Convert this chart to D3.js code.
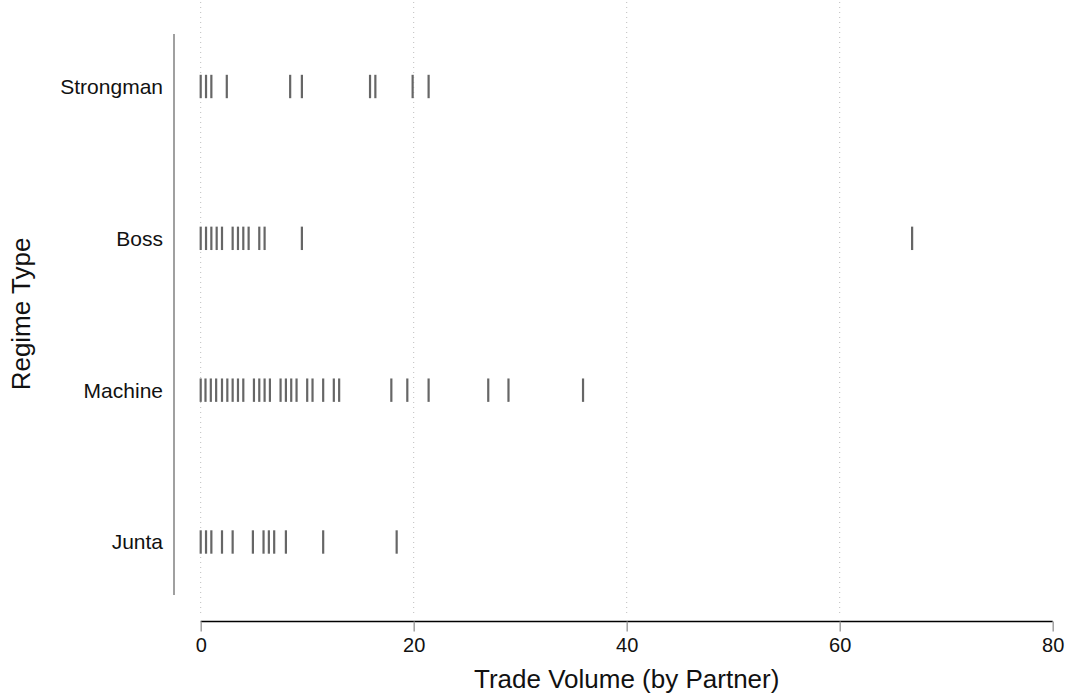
<!DOCTYPE html>
<html>
<head>
<meta charset="utf-8">
<script src="https://cdn.jsdelivr.net/npm/d3@7"></script>
<style>
    body { margin: 0; background: #fff; }
    svg { font-family: "Liberation Sans", Arial, sans-serif; }
</style>
</head>
<body>
<svg id="chart"></svg>
<script>
let width = 1071;
let height = 697;

// regime types, top to bottom
let regimes = ["Strongman", "Boss", "Machine", "Junta"];

// trade volume per partner, one rug per regime
let strongmanVals = [0, 0.5, 1, 2.45, 8.4, 9.5, 15.9, 16.4, 19.9, 21.4];
let bossVals = [0, 0.5, 1, 1.5, 2, 3, 3.5, 4, 4.5, 5.5, 6, 9.5, 66.8];
let machineVals = [0, 0.45, 0.95, 1.45, 2, 2.5, 3, 3.5, 4, 5, 5.5, 6, 6.5, 7.5, 8, 8.5, 9,
    10, 10.5, 11.5, 12.5, 13, 17.9, 19.4, 21.4, 27, 28.9, 35.9];
let juntaVals = [0, 0.5, 1, 2, 3, 4.9, 5.9, 6.4, 6.9, 8, 11.5, 18.4];

let xTicks = [0, 20, 40, 60, 80];
let gridTicks = [0, 20, 40, 60];

let rows = [
    { regime: "Strongman", vals: strongmanVals },
    { regime: "Boss", vals: bossVals },
    { regime: "Machine", vals: machineVals },
    { regime: "Junta", vals: juntaVals }
];

let svg = d3.select("#chart")
    .attr("width", width)
    .attr("height", height);

let x = d3.scaleLinear()
    .domain([0, 80])
    .range([200.7, 1052.7]);

let y = d3.scalePoint()
    .domain(regimes)
    .range([86.5, 542]);

// dotted gridlines
svg.selectAll(".grid")
    .data(gridTicks)
    .enter()
    .append("line")
        .attr("class", "grid")
        .attr("x1", d => x(d))
        .attr("x2", d => x(d))
        .attr("y1", 2)
        .attr("y2", 616)
        .attr("stroke", "#bdbdbd")
        .attr("stroke-width", 1)
        .attr("stroke-dasharray", "1,4");

// y axis (gray line, no ticks)
svg.append("line")
    .attr("x1", 174)
    .attr("x2", 174)
    .attr("y1", 34)
    .attr("y2", 595)
    .attr("stroke", "#a0a0a0")
    .attr("stroke-width", 2);

svg.selectAll(".cat")
    .data(regimes)
    .enter()
    .append("text")
        .attr("class", "cat")
        .attr("x", 163)
        .attr("y", d => y(d))
        .attr("dy", "0.35em")
        .attr("text-anchor", "end")
        .attr("font-size", 21)
        .attr("fill", "#111")
        .text(d => d);

// x axis
let xAxis = svg.append("g")
    .attr("transform", "translate(0,621.5)")
    .call(d3.axisBottom(x).tickValues(xTicks).tickSize(10).tickPadding(6).tickFormat(d3.format("d")));
xAxis.select(".domain")
    .attr("stroke", "#000")
    .attr("stroke-width", 1.5)
    .attr("d", "M" + x(0) + ",0H" + x(80));
xAxis.selectAll(".tick line")
    .attr("stroke", "#a0a0a0")
    .attr("stroke-width", 1.5);
xAxis.selectAll(".tick text")
    .attr("font-size", 20)
    .attr("font-family", "Liberation Sans, Arial, sans-serif")
    .attr("fill", "#111");

// rug marks
rows.forEach(row => {
    svg.append("g")
        .selectAll("line")
        .data(row.vals)
        .enter()
        .append("line")
            .attr("x1", d => x(d))
            .attr("x2", d => x(d))
            .attr("y1", y(row.regime) - 11.7)
            .attr("y2", y(row.regime) + 11.7)
            .attr("stroke", "#666")
            .attr("stroke-width", 2.2);
});

// axis titles
svg.append("text")
    .attr("x", x(40))
    .attr("y", 688)
    .attr("text-anchor", "middle")
    .attr("font-size", 26)
    .attr("fill", "#111")
    .text("Trade Volume (by Partner)");

svg.append("text")
    .attr("transform", "translate(30,314) rotate(-90)")
    .attr("text-anchor", "middle")
    .attr("font-size", 26)
    .attr("fill", "#111")
    .text("Regime Type");
</script>
</body>
</html>
